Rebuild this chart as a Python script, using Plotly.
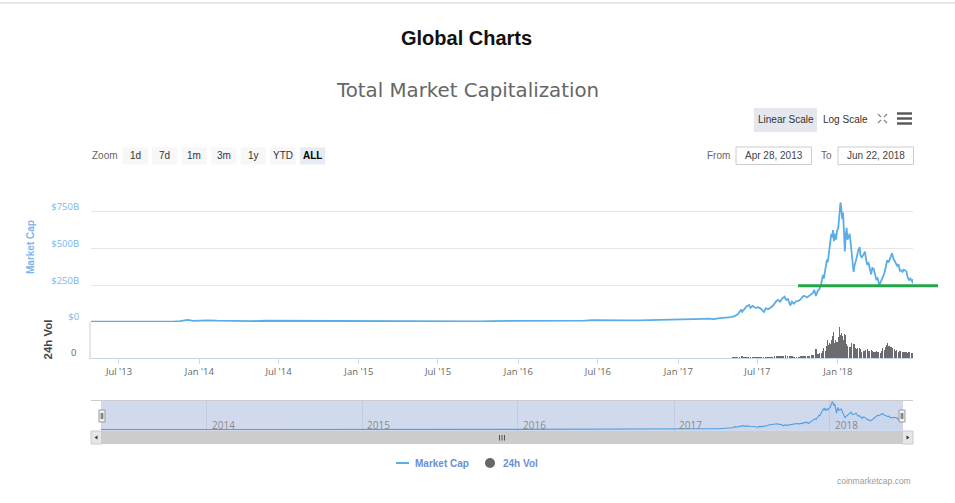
import plotly.graph_objects as go
import pandas as pd

# ---------------- data ----------------
mc_dates = [
    "2013-04-28", "2013-05-15", "2013-06-01", "2013-07-01", "2013-08-01", "2013-09-01", "2013-10-01",
    "2013-11-01", "2013-11-18", "2013-11-30", "2013-12-05", "2013-12-18", "2014-01-01", "2014-01-20",
    "2014-02-10", "2014-03-01", "2014-04-01", "2014-05-01", "2014-06-01", "2014-07-01", "2014-08-01",
    "2014-09-01", "2014-10-01", "2014-11-01", "2014-12-01", "2015-01-01", "2015-01-15", "2015-02-01",
    "2015-03-01", "2015-04-01", "2015-05-01", "2015-06-01", "2015-07-01", "2015-08-01", "2015-09-01",
    "2015-10-01", "2015-11-04", "2015-12-01", "2016-01-01", "2016-02-01", "2016-03-01", "2016-04-01",
    "2016-05-01", "2016-06-01", "2016-06-17", "2016-07-01", "2016-08-01", "2016-09-01", "2016-10-01",
    "2016-11-01", "2016-12-01", "2017-01-04", "2017-01-12", "2017-02-01", "2017-02-15", "2017-03-01",
    "2017-03-10", "2017-03-24", "2017-04-01", "2017-04-15", "2017-05-01", "2017-05-10", "2017-05-17",
    "2017-05-25", "2017-05-27", "2017-06-01", "2017-06-06", "2017-06-12", "2017-06-15", "2017-06-20",
    "2017-06-27", "2017-07-03", "2017-07-09", "2017-07-16", "2017-07-20", "2017-07-26", "2017-08-01",
    "2017-08-06", "2017-08-13", "2017-08-17", "2017-08-22", "2017-08-26", "2017-09-01", "2017-09-05",
    "2017-09-09", "2017-09-14", "2017-09-18", "2017-09-22", "2017-09-28", "2017-10-03", "2017-10-08",
    "2017-10-12", "2017-10-16", "2017-10-22", "2017-10-26", "2017-10-31", "2017-11-05", "2017-11-08",
    "2017-11-12", "2017-11-16", "2017-11-20", "2017-11-24", "2017-11-28", "2017-11-30", "2017-12-03",
    "2017-12-07", "2017-12-09", "2017-12-12", "2017-12-14", "2017-12-17", "2017-12-19", "2017-12-21",
    "2017-12-23", "2017-12-26", "2017-12-28", "2017-12-30", "2018-01-02", "2018-01-04", "2018-01-07",
    "2018-01-09", "2018-01-11", "2018-01-13", "2018-01-16", "2018-01-17", "2018-01-19", "2018-01-21",
    "2018-01-23", "2018-01-26", "2018-01-28", "2018-01-31", "2018-02-02", "2018-02-05", "2018-02-06",
    "2018-02-08", "2018-02-11", "2018-02-14", "2018-02-17", "2018-02-20", "2018-02-22", "2018-02-25",
    "2018-02-28", "2018-03-04", "2018-03-06", "2018-03-09", "2018-03-12", "2018-03-15", "2018-03-18",
    "2018-03-21", "2018-03-24", "2018-03-27", "2018-03-30", "2018-04-02", "2018-04-06", "2018-04-09",
    "2018-04-12", "2018-04-15", "2018-04-18", "2018-04-21", "2018-04-24", "2018-04-27", "2018-04-30",
    "2018-05-03", "2018-05-05", "2018-05-08", "2018-05-11", "2018-05-14", "2018-05-17", "2018-05-20",
    "2018-05-23", "2018-05-26", "2018-05-29", "2018-06-01", "2018-06-04", "2018-06-07", "2018-06-10",
    "2018-06-13", "2018-06-16", "2018-06-19", "2018-06-21", "2018-06-22",
]
mc_values = [  # billions USD
    1.6, 1.3, 1.4, 1.1, 1.3, 1.6, 1.7,
    2.6, 6.5, 14.0, 15.0, 7.5, 10.5, 11.5,
    9.0, 7.9, 6.6, 6.0, 8.6, 8.4, 7.9,
    6.9, 5.3, 4.6, 5.3, 4.7, 3.0, 3.5,
    3.8, 3.7, 3.6, 3.6, 4.3, 4.6, 4.0,
    4.2, 6.6, 6.4, 7.0, 6.7, 7.4, 7.4,
    8.1, 9.8, 12.6, 11.4, 10.5, 10.6, 10.8,
    12.1, 13.6, 18.5, 14.8, 17.6, 18.4, 21.8,
    23.0, 19.7, 24.5, 26.4, 33.0, 40.0, 53.0,
    85.0, 70.0, 88.0, 105.0, 116.0, 96.0, 109.0,
    96.0, 100.0, 90.0, 68.0, 93.0, 87.0, 98.0,
    112.0, 142.0, 150.0, 138.0, 158.0, 172.0, 150.0,
    156.0, 112.0, 138.0, 124.0, 142.0, 143.0, 155.0,
    172.0, 178.0, 167.0, 175.0, 190.0, 198.0, 218.0,
    177.0, 212.0, 225.0, 262.0, 320.0, 295.0, 340.0,
    425.0, 405.0, 470.0, 520.0, 600.0, 575.0, 625.0,
    550.0, 600.0, 560.0, 620.0, 640.0, 700.0, 813.0,
    770.0, 700.0, 745.0, 545.0, 480.0, 590.0, 640.0,
    560.0, 580.0, 600.0, 520.0, 440.0, 370.0, 340.0,
    380.0, 410.0, 450.0, 490.0, 510.0, 450.0, 440.0,
    455.0, 478.0, 440.0, 390.0, 405.0, 355.0, 325.0,
    368.0, 362.0, 325.0, 290.0, 298.0, 252.0, 272.0,
    300.0, 312.0, 338.0, 372.0, 420.0, 405.0, 435.0,
    448.0, 468.0, 432.0, 408.0, 398.0, 382.0, 392.0,
    348.0, 352.0, 342.0, 356.0, 350.0, 345.0, 302.0,
    286.0, 296.0, 280.0, 284.0, 262.0,
]

vol_dates = [
    "2013-06-01", "2013-12-01", "2014-06-01", "2015-01-01", "2015-06-01", "2016-01-01", "2016-06-01",
    "2016-12-01", "2017-01-05", "2017-02-01", "2017-03-01", "2017-04-01", "2017-04-15",
    "2017-05-01", "2017-05-06", "2017-05-11", "2017-05-16", "2017-05-21", "2017-05-26", "2017-05-31",
    "2017-06-05", "2017-06-10", "2017-06-15", "2017-06-20", "2017-06-25", "2017-06-30", "2017-07-05",
    "2017-07-10", "2017-07-15", "2017-07-20", "2017-07-25", "2017-07-30", "2017-08-04", "2017-08-09",
    "2017-08-14", "2017-08-19", "2017-08-24", "2017-08-29", "2017-09-03", "2017-09-08", "2017-09-13",
    "2017-09-18", "2017-09-23", "2017-09-28", "2017-10-02", "2017-10-05", "2017-10-08", "2017-10-11",
    "2017-10-14", "2017-10-17", "2017-10-20", "2017-10-23", "2017-10-26", "2017-10-29", "2017-11-01",
    "2017-11-04", "2017-11-07", "2017-11-10", "2017-11-12", "2017-11-15", "2017-11-18", "2017-11-21",
    "2017-11-24", "2017-11-27", "2017-11-30", "2017-12-03", "2017-12-06", "2017-12-08", "2017-12-10",
    "2017-12-13", "2017-12-15", "2017-12-17", "2017-12-20", "2017-12-22", "2017-12-25", "2017-12-27",
    "2017-12-30", "2018-01-02", "2018-01-05", "2018-01-07", "2018-01-09", "2018-01-11", "2018-01-14",
    "2018-01-16", "2018-01-18", "2018-01-21", "2018-01-24", "2018-01-27", "2018-01-30", "2018-02-02",
    "2018-02-05", "2018-02-07", "2018-02-10", "2018-02-13", "2018-02-16", "2018-02-19", "2018-02-22",
    "2018-02-25", "2018-02-28", "2018-03-03", "2018-03-06", "2018-03-09", "2018-03-12", "2018-03-15",
    "2018-03-18", "2018-03-21", "2018-03-24", "2018-03-27", "2018-03-30", "2018-04-02", "2018-04-05",
    "2018-04-08", "2018-04-11", "2018-04-14", "2018-04-17", "2018-04-20", "2018-04-23", "2018-04-25",
    "2018-04-28", "2018-05-01", "2018-05-04", "2018-05-07", "2018-05-10", "2018-05-13", "2018-05-16",
    "2018-05-19", "2018-05-22", "2018-05-25", "2018-05-28", "2018-05-31", "2018-06-03", "2018-06-06",
    "2018-06-09", "2018-06-12", "2018-06-15", "2018-06-18", "2018-06-21",
]
vol_values = [  # billions USD
    0.02, 0.2, 0.05, 0.03, 0.02, 0.05, 0.1,
    0.1, 0.3, 0.2, 0.3, 0.4, 0.5,
    0.9, 1.2, 1.5, 1.6, 2.5, 3.3, 2.2,
    2.0, 2.6, 3.2, 2.4, 2.0, 1.7, 1.5,
    1.9, 2.6, 2.8, 1.9, 2.0, 2.5, 3.5,
    4.6, 4.0, 3.6, 4.8, 5.5, 3.5, 5.2,
    3.8, 2.5, 2.6, 2.7, 3.0, 3.3, 4.8,
    4.6, 4.2, 4.9, 5.2, 4.0, 4.5, 6.5,
    6.2, 6.8, 13.0, 20.5, 9.5, 8.5, 9.8,
    11.0, 15.5, 22.0, 16.0, 26.0, 38.0, 28.0,
    33.0, 30.0, 40.0, 48.0, 57.0, 32.0, 40.0,
    35.0, 45.0, 68.0, 50.0, 55.0, 48.0, 38.0,
    52.0, 50.0, 30.0, 27.0, 24.0, 23.0, 33.0,
    37.0, 30.0, 22.0, 19.0, 21.0, 22.0, 19.0,
    14.0, 16.0, 15.0, 17.0, 19.0, 16.0, 16.0,
    17.0, 15.0, 13.0, 14.0, 15.0, 12.0, 13.0,
    11.0, 16.0, 21.0, 18.0, 24.0, 28.0, 33.0,
    25.0, 23.0, 24.0, 21.0, 19.0, 16.0, 17.0,
    14.0, 14.5, 15.0, 13.0, 14.0, 12.5, 13.0,
    11.0, 14.0, 12.0, 11.5, 11.0,
]

x_tick_dates = ["2013-07-01", "2014-01-01", "2014-07-01", "2015-01-01", "2015-07-01",
                "2016-01-01", "2016-07-01", "2017-01-01", "2017-07-01", "2018-01-01"]
x_tick_labels = ["Jul '13", "Jan '14", "Jul '14", "Jan '15", "Jul '15",
                 "Jan '16", "Jul '16", "Jan '17", "Jul '17", "Jan '18"]
y_tick_vals = [0, 250, 500, 750, 1000]
y_tick_labels = ["$0", "$250B", "$500B", "$750B", ""]
nav_tick_dates = ["2014-01-01", "2015-01-01", "2016-01-01", "2017-01-01", "2018-01-01"]
nav_tick_labels = ["2014", "2015", "2016", "2017", "2018"]
zoom_buttons = ["1d", "7d", "1m", "3m", "1y", "YTD", "ALL"]
range_from = "Apr 28, 2013"
range_to = "Jun 22, 2018"
support_start = "2017-10-02"
support_level = 246  # billions

X_START, X_END = "2013-04-28", "2018-06-22"
Y_MAX = 1000
VOL_MAX = 78

# ---------------- layout helpers ----------------
W, H = 955, 503
def px(x):
    return x / W
def py(y):
    return 1 - y / H

X_MAIN = [px(91), px(913)]
Y_MAIN = [py(322), py(175)]
Y_VOL = [py(358), py(322)]
X_NAV = [px(101), px(903)]
Y_NAV = [py(431), py(400)]

MC_COLOR = "#5aade6"
NAV_COLOR = "#4f9fe3"
VOL_COLOR = "rgba(67,67,72,0.78)"
UI_FONT = "Liberation Sans"

t0 = pd.Timestamp(X_START).value
t1 = pd.Timestamp(X_END).value
def date_to_paper(d, dom):
    return dom[0] + (pd.Timestamp(d).value - t0) / (t1 - t0) * (dom[1] - dom[0])

fig = go.Figure()

fig.add_trace(go.Scatter(x=mc_dates, y=mc_values, mode="lines", xaxis="x", yaxis="y",
                         line=dict(color=MC_COLOR, width=1.8), hoverinfo="skip"))

vd = pd.to_datetime(pd.Series(vol_dates))
gaps = vd.diff().shift(-1).fillna(pd.Timedelta(days=3))
widths = [g.total_seconds() * 1000 * 0.82 for g in gaps]
fig.add_trace(go.Bar(x=vol_dates, y=vol_values, width=widths, xaxis="x", yaxis="y2",
                     marker=dict(color=VOL_COLOR, line=dict(width=0)), hoverinfo="skip"))

fig.add_trace(go.Scatter(x=mc_dates, y=mc_values, mode="lines", xaxis="x2", yaxis="y3",
                         line=dict(color=NAV_COLOR, width=1.1), fill="tozeroy",
                         fillcolor="rgba(79,159,227,0.05)", hoverinfo="skip"))

shapes = []
annotations = []

def rect(x0, y0, x1, y1, fill, line="rgba(0,0,0,0)", lw=0, layer="above"):
    shapes.append(dict(type="rect", xref="paper", yref="paper", x0=px(x0), x1=px(x1),
                       y0=py(y1), y1=py(y0), fillcolor=fill, line=dict(color=line, width=lw),
                       layer=layer))

def hline(x0, x1, y, color, w):
    shapes.append(dict(type="line", xref="paper", yref="paper", x0=px(x0), x1=px(x1),
                       y0=py(y), y1=py(y), line=dict(color=color, width=w)))

def seg(x0, y0, x1, y1, color, w):
    shapes.append(dict(type="line", xref="paper", yref="paper", x0=px(x0), x1=px(x1),
                       y0=py(y0), y1=py(y1), line=dict(color=color, width=w)))

def text(x, y, s, size, color, family=UI_FONT, xanchor="center", bold=False, angle=0, xpaper=None):
    if bold:
        s = "<b>" + s + "</b>"
    annotations.append(dict(x=px(x) if xpaper is None else xpaper, y=py(y), xref="paper",
                            yref="paper", text=s, showarrow=False, xanchor=xanchor,
                            yanchor="middle", textangle=angle,
                            font=dict(size=size, color=color, family=family)))

# page top border
hline(0, 955, 3, "#e6e7ec", 2)

# titles
text(466, 38, "Global Charts", 20, "#111111", bold=True)
text(467, 90, "Total Market Capitalization", 19.8, "#666666", family="DejaVu Sans")

# scale buttons
rect(754, 108, 817, 132, "#e4e7ed")
text(785.5, 119, "Linear Scale", 10, "#333333")
text(845, 119, "Log Scale", 10, "#333333")
# fullscreen icon
for (cx, cy, dx, dy) in [(878, 114, 1, 1), (887, 114, -1, 1), (878, 123, 1, -1), (887, 123, -1, -1)]:
    seg(cx, cy, cx + 3 * dx, cy + 3 * dy, "#888888", 1.3)
# hamburger
for yy in (113.5, 118.5, 123.5):
    hline(897, 912, yy, "#555555", 2.4)

# zoom row
text(105, 156, "Zoom", 10, "#666666")
btn_x = [122.7, 152.2, 181.7, 211.3, 240.7, 270.3, 300.0]
for bx, lab in zip(btn_x, zoom_buttons):
    active = lab == "ALL"
    rect(bx, 147.3, bx + 25.3, 164.5, "#e6ebf5" if active else "#f7f7f7")
    text(bx + 12.7, 156, lab, 10, "#000000" if active else "#333333", bold=active)

text(718.5, 156, "From", 10, "#666666")
rect(736, 147, 811.5, 164.5, "#ffffff", "#cccccc", 1)
text(773.7, 156, range_from, 10, "#444444")
text(826.7, 156, "To", 10, "#666666")
rect(838, 147, 913.5, 164.5, "#ffffff", "#cccccc", 1)
text(875.7, 156, range_to, 10, "#444444")

# axis titles
text(31, 247, "Market Cap", 10, "#7cb5ec", bold=True, angle=-90)
text(47, 339.5, "24h Vol", 11.5, "#444444", bold=True, angle=-90)

# support line (drawn annotation)
sx0 = date_to_paper(support_start, X_MAIN)
sy = Y_MAIN[0] + support_level / Y_MAX * (Y_MAIN[1] - Y_MAIN[0])
shapes.append(dict(type="line", xref="paper", yref="paper", x0=sx0, x1=px(938), y0=sy, y1=sy,
                   line=dict(color="#23a649", width=3)))

# navigator
rect(101, 400, 903, 431, "rgba(102,133,194,0.3)", layer="below")
hline(91, 913, 400.5, "#cccccc", 1)
for d, lab in zip(nav_tick_dates, nav_tick_labels):
    text(0, 424.5, lab, 10, "#8a8a8a", family="Open Sans", xanchor="left",
         xpaper=date_to_paper(d, X_NAV) + px(3))
for hx in (102, 902):
    rect(hx - 3, 410, hx + 3, 422, "#f2f2f2", "#999999", 1)
    seg(hx - 0.8, 413, hx - 0.8, 419, "#333333", 0.8)
    seg(hx + 0.8, 413, hx + 0.8, 419, "#333333", 0.8)

# scrollbar
rect(91, 431, 913, 444, "#cccccc")
rect(91, 431, 101.5, 444, "#e6e6e6", "#cccccc", 1)
rect(902.5, 431, 913, 444, "#e6e6e6", "#cccccc", 1)
shapes.append(dict(type="path", xref="paper", yref="paper",
                   path="M %f %f L %f %f L %f %f Z" % (px(94.5), py(437.5), px(97.5), py(435.5), px(97.5), py(439.5)),
                   fillcolor="#333333", line=dict(width=0)))
shapes.append(dict(type="path", xref="paper", yref="paper",
                   path="M %f %f L %f %f L %f %f Z" % (px(909.5), py(437.5), px(906.5), py(435.5), px(906.5), py(439.5)),
                   fillcolor="#333333", line=dict(width=0)))
for gx in (499.5, 502, 504.5):
    seg(gx, 435, gx, 440.5, "#333333", 0.8)

# legend
hline(396, 409, 463, MC_COLOR, 2)
text(413, 463, "Market Cap", 10, "#6a8fd4", xanchor="left", bold=True)
shapes.append(dict(type="circle", xref="paper", yref="paper", x0=px(485), x1=px(495),
                   y0=py(468), y1=py(458), fillcolor="#666666", line=dict(width=0)))
text(501, 463, "24h Vol", 10, "#6a8fd4", xanchor="left", bold=True)

# credits
text(913, 481, "coinmarketcap.com", 8.5, "#999999", xanchor="right")

tick_font = dict(family="Open Sans", size=9.5, color="#666666")

fig.update_layout(
    width=W, height=H, margin=dict(l=0, r=0, t=0, b=0),
    paper_bgcolor="white", plot_bgcolor="rgba(0,0,0,0)",
    showlegend=False, bargap=0,
    shapes=shapes, annotations=annotations,
    xaxis=dict(domain=X_MAIN, anchor="y2", range=[X_START, X_END], type="date",
               tickvals=x_tick_dates, ticktext=x_tick_labels, ticks="outside", ticklen=5,
               tickcolor="#ccd6eb", showline=True, linecolor="#ccd6eb", linewidth=1,
               showgrid=False, zeroline=False, tickfont=tick_font),
    yaxis=dict(domain=Y_MAIN, anchor="x", range=[0, Y_MAX], tickvals=y_tick_vals,
               ticktext=y_tick_labels, gridcolor="#e6e6e6", gridwidth=1, zeroline=False,
               showline=False, ticks="outside", ticklen=9, tickcolor="rgba(0,0,0,0)",
               ticklabelshift=-5, tickfont=dict(family="Open Sans", size=9.5, color="#7cb5ec")),
    yaxis2=dict(domain=Y_VOL, anchor="x", range=[0, VOL_MAX], tickvals=[0], ticktext=["0"],
                showgrid=False, zeroline=False, showline=True, linecolor="#e6e6e6", linewidth=1.5,
                ticks="outside", ticklen=11, tickcolor="rgba(0,0,0,0)", ticklabelshift=-5,
                tickfont=tick_font),
    xaxis2=dict(domain=X_NAV, anchor="y3", range=[X_START, X_END], type="date",
                tickvals=nav_tick_dates, showticklabels=False, ticks="",
                showgrid=True, gridcolor="#c3cbdd", showline=False, zeroline=False),
    yaxis3=dict(domain=Y_NAV, anchor="x2", range=[-40, 860], visible=False),
)

post = (
    "document.documentElement.style.margin='0';"
    "document.documentElement.style.overflow='hidden';"
    "document.body.style.margin='0';document.body.style.overflow='hidden';"
    "var gds=document.getElementsByClassName('plotly-graph-div');"
    "for(var i=0;i<gds.length;i++){gds[i].style.position='fixed';gds[i].style.top='0px';gds[i].style.left='0px';}"
)
fig.write_html("out.html", config={"displayModeBar": False}, post_script=post)
